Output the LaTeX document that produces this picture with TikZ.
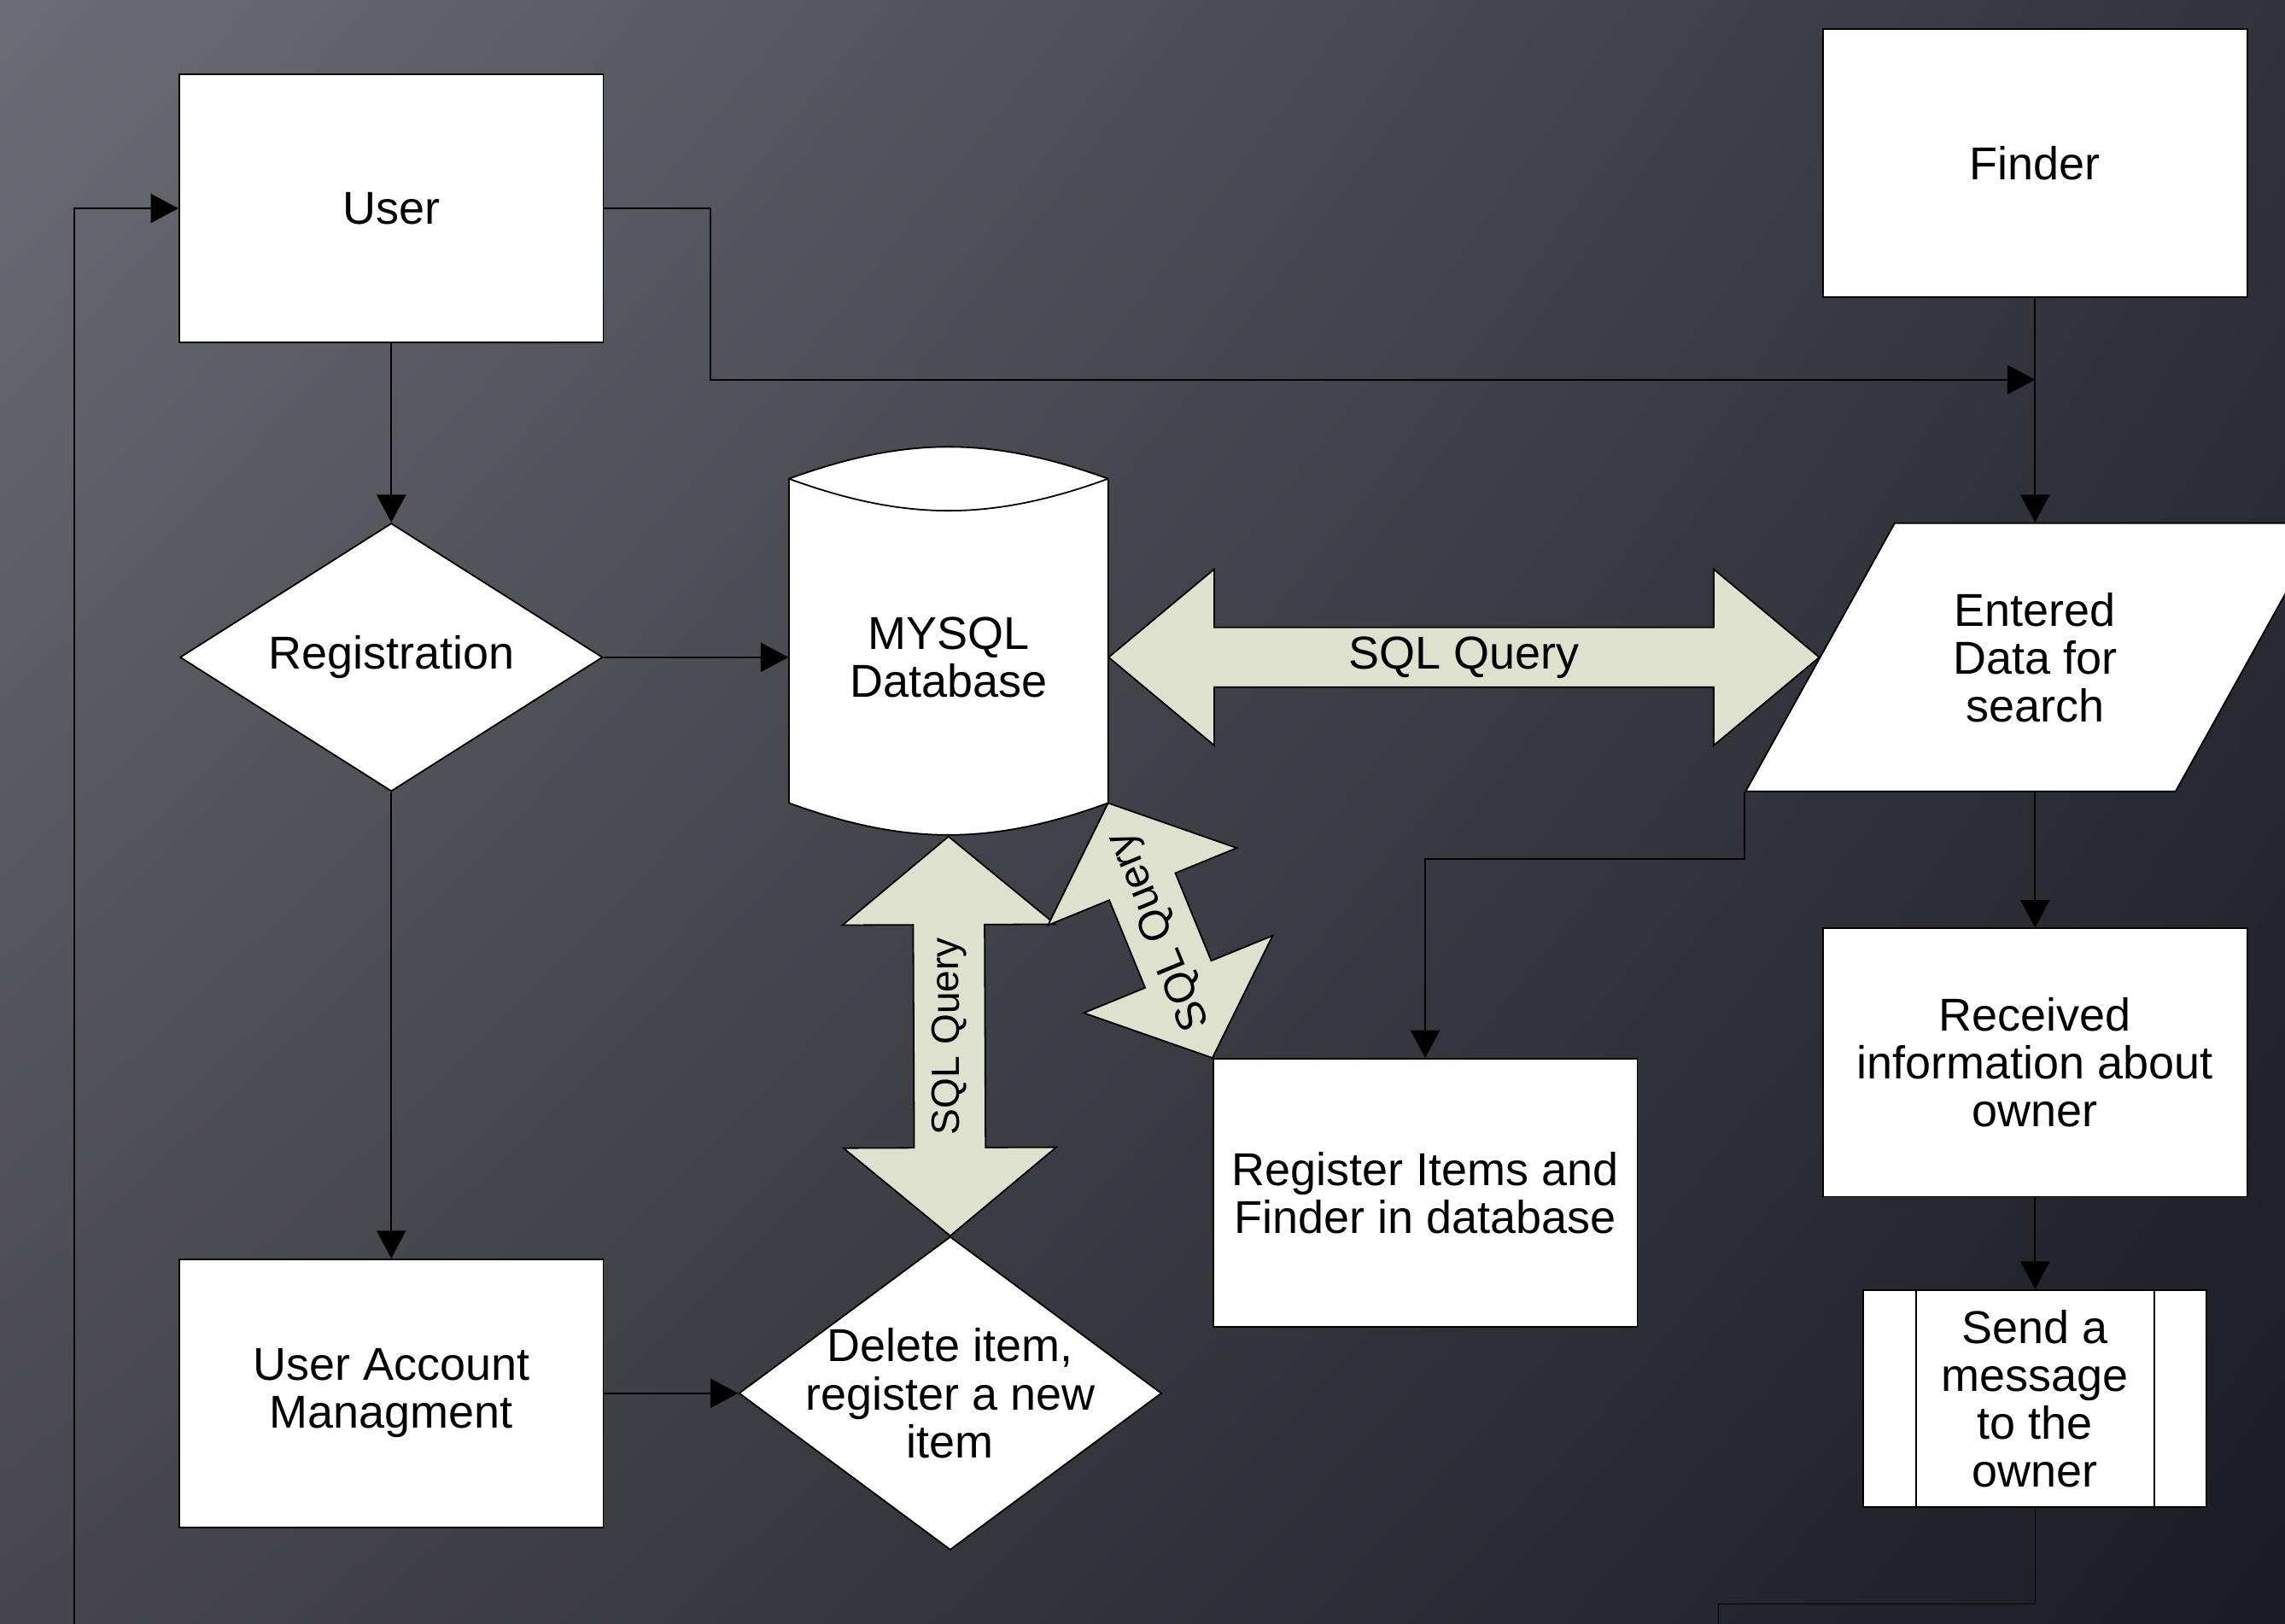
\documentclass[tikz,border=0pt]{standalone}
\usepackage{fontspec}
\setmainfont{Liberation Sans}
\usepackage{xcolor}
\usetikzlibrary{arrows.meta,positioning,shapes.geometric,calc,backgrounds,shadings}

\definecolor{bgA}{RGB}{108,109,116}
\definecolor{bgB}{RGB}{50,50,58}
\definecolor{bgC}{RGB}{70,70,76}
\definecolor{bgD}{RGB}{27,27,36}
\definecolor{qfill}{RGB}{221,225,205}

% wide double arrow between two points: [label opts], from, to, head length, head half width, shaft half width, label name
\newcommand{\sqlarrow}[7][]{%
  \path (#2) coordinate (qa) (#3) coordinate (qb);
  \coordinate (qh1) at ($(qa)!#4!(qb)$);
  \coordinate (qh2) at ($(qb)!#4!(qa)$);
  \draw[query] (qa) -- ($(qh1)!#5!-90:(qb)$) -- ($(qh1)!#6!-90:(qb)$)
    -- ($(qh2)!#6!90:(qa)$) -- ($(qh2)!#5!90:(qa)$) -- (qb)
    -- ($(qh2)!#5!-90:(qa)$) -- ($(qh2)!#6!-90:(qa)$)
    -- ($(qh1)!#6!90:(qb)$) -- ($(qh1)!#5!90:(qb)$) -- cycle;
  \path (qa) -- node[sloped, allow upside down, inner sep=0pt, #1] (#7) {SQL Query} (qb);
}

\begin{document}
\begin{tikzpicture}[
  font=\fontsize{18pt}{18.7pt}\selectfont,
  box/.style={draw, fill=white, line width=0.6pt, minimum width=5.82cm, minimum height=3.68cm, align=center, inner sep=1pt},
  decision/.style={draw, fill=white, diamond, aspect=1.4, align=center, line width=0.6pt},
  io/.style={draw, fill=white, trapezium, trapezium left angle=56.8, trapezium right angle=123.2,
    trapezium stretches=true, minimum width=7.96cm, minimum height=3.68cm, align=center, line width=0.6pt},
  subproc/.style={draw, fill=white, line width=0.6pt, minimum width=4.71cm, minimum height=2.98cm, align=center,
    path picture={\draw[line width=0.6pt]
      ([xshift=7.2mm]path picture bounding box.north west) -- ([xshift=7.2mm]path picture bounding box.south west)
      ([xshift=-7.2mm]path picture bounding box.north east) -- ([xshift=-7.2mm]path picture bounding box.south east);}},
  query/.style={draw, fill=qfill, line width=0.6pt},
  arr/.style={-{Triangle[length=3.8mm,width=4mm]}, line width=0.6pt}
]
  \useasboundingbox (0,0) rectangle (31.36,-22.28);
  \begin{scope}[on background layer]
    \shade[upper left=bgA, upper right=bgB, lower left=bgC, lower right=bgD] (0,0) rectangle (31.36,-22.28);
  \end{scope}

  % left column
  \node[box] (user) at (5.37,-2.86) {User};
  \node[decision, below=2.46cm of user, minimum width=5.8cm, minimum height=3.68cm, inner sep=0pt] (reg) {Registration};
  \node[box, below=6.4cm of reg] (uam) {User Account\\Managment};
  \node[decision, right=1.84cm of uam, minimum width=5.8cm, minimum height=4.3cm, inner sep=-4mm] (del) {Delete item,\\register a new\\item};

  % database
  \node[right=2.54cm of reg, minimum width=4.38cm, inner sep=0pt, align=center] (db) {MYSQL\\Database};
  \coordinate (dbtl) at ($(db.center)+(-2.19,2.45)$);
  \coordinate (dbtr) at ($(db.center)+(2.19,2.45)$);
  \coordinate (dbbl) at ($(db.center)+(-2.19,-2.0)$);
  \coordinate (dbbr) at ($(db.center)+(2.19,-2.0)$);
  \coordinate (dbbot) at ($(db.center)+(0,-2.46)$);
  \begin{scope}[on background layer]
    \filldraw[fill=white, line width=0.6pt] (dbtl) to[bend left=20] (dbtr) -- (dbbr) to[bend left=20] (dbbl) -- cycle;
    \draw[line width=0.6pt] (dbtl) to[bend right=20] (dbtr);
  \end{scope}

  % right column
  \node[box] (finder) at (27.93,-2.24) {Finder};
  \coordinate[below=1.12cm of finder.south] (merge);
  \node[io, below=3.08cm of finder] (entered) {Entered\\Data for\\search};
  \node[box, below=1.86cm of entered] (received) {Received\\information about\\owner};
  \node[subproc, below=1.26cm of received] (send) {Send a\\message\\to the\\owner};
  \node[box] (items) at (19.56,-16.37) {Register Items and\\Finder in database};

  \coordinate (exitl) at (1.02,-22.6);
  \coordinate (exitr) at (23.58,-22.6);

  % connectors
  \draw[arr] (user) -- (reg);
  \draw[arr] (reg) -- (uam);
  \draw[arr] (reg) -- (db);
  \draw[arr] (uam) -- (del);
  \draw[arr] (user.east) -- ++(1.46,0) |- (merge);
  \draw[arr] (finder.south) -- (entered.north);
  \draw[arr] (entered.south) -- (received.north);
  \draw[arr] (received) -- (send);
  \draw[arr] (entered.bottom left corner) -- ++(0,-0.92) -| (items.north);
  \draw (send.south) -- ++(0,-1.32) -| (exitr);
  \draw[arr] (exitl) |- (user.west);

  % SQL queries
  \sqlarrow{db.east}{entered.left side}{1.45cm}{1.21cm}{0.41cm}{q1}
  \sqlarrow[font=\fontsize{15.4pt}{16pt}\selectfont]{del.north}{dbbot}{1.21cm}{1.46cm}{0.49cm}{q2}
  \sqlarrow[font=\fontsize{16.4pt}{17pt}\selectfont]{items.north west}{dbbr}{1.24cm}{1.4cm}{0.49cm}{q3}
\end{tikzpicture}
\end{document}
